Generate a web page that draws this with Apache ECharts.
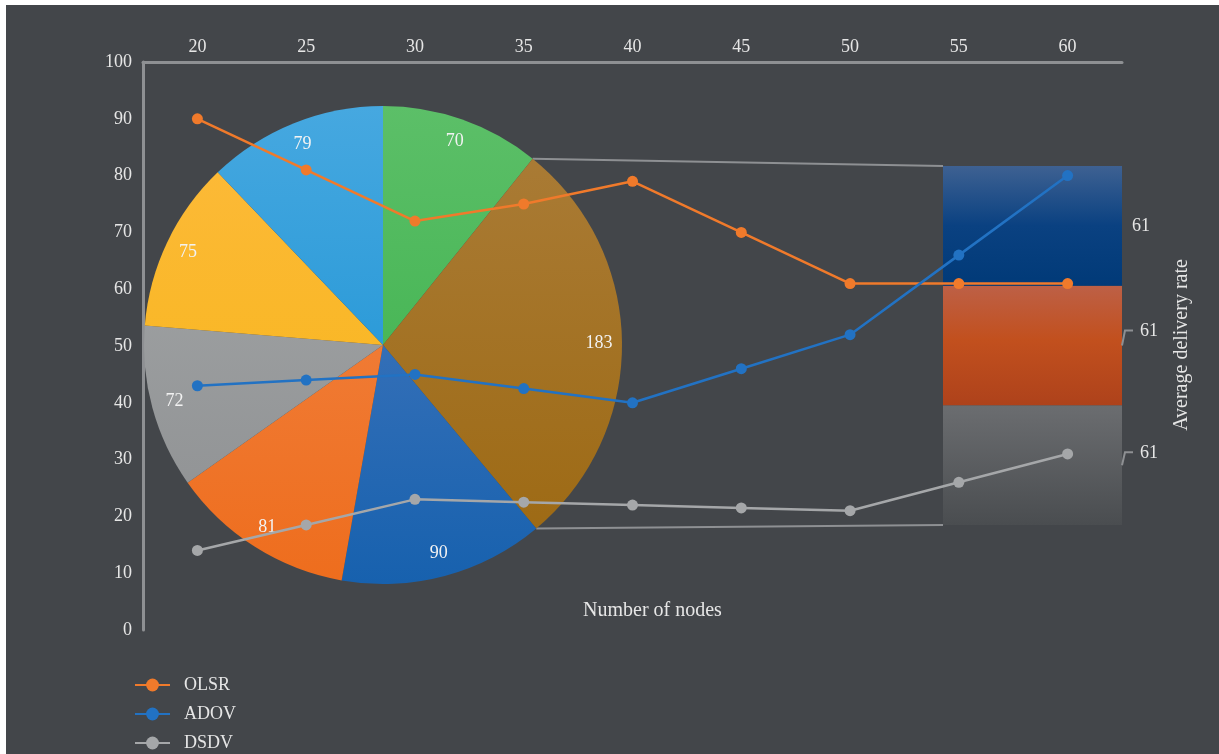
<!DOCTYPE html>
<html>
<head>
<meta charset="utf-8">
<script src="https://cdn.jsdelivr.net/npm/echarts@6/dist/echarts.min.js"></script>
<style>
html,body{margin:0;padding:0;background:#ffffff;}
#chart{width:1219px;height:754px;}
</style>
</head>
<body>
<div id="chart"></div>
<script>
// ---- data ----
var nodeCounts = ['20', '25', '30', '35', '40', '45', '50', '55', '60'];
var olsr = [90, 81, 72, 75, 79, 70, 61, 61, 61];
var adov = [43, 44, 45, 42.5, 40, 46, 52, 66, 80];
var dsdv = [14, 18.5, 23, 22.5, 22, 21.5, 21, 26, 31];
var pieValues = [70, 183, 90, 81, 72, 75, 79];
var barOfPieValues = [61, 61, 61]; // bottom (gray), middle (orange), top (blue)
var yTicks = [0, 100, 10]; // min, max, interval

var FONT = '"Liberation Serif", "DejaVu Serif", serif';
var TXT = '#e6e6e6';
var BG = '#43464a';
var AXIS = '#8e9093';

var pieCenter = [383, 345];
var pieR = 239;
var pieColors = [
  ['#5cbf68', '#36ae46'],
  ['#ab7d39', '#9c6810'],
  ['#4f7dc1', '#1761ae'],
  ['#f2884b', '#ee6d1d'],
  ['#a6a9aa', '#8d8f91'],
  ['#fdba3c', '#f6b513'],
  ['#46a8e0', '#138ed1']
];
var pieData = pieValues.map(function (v, i) {
  return {value: v, itemStyle: {color: new echarts.graphic.LinearGradient(0, pieCenter[1] - pieR, 0, pieCenter[1] + pieR,
    [{offset: 0, color: pieColors[i][0]}, {offset: 1, color: pieColors[i][1]}], true)}};
});
var pieLabelData = pieValues.map(function (v) {
  return {value: v, itemStyle: {color: 'rgba(0,0,0,0)'}};
});

var barColors = [
  [{offset: 0, color: '#6b6d70'}, {offset: 1, color: '#4a4d50'}],
  [{offset: 0, color: '#bd6046'}, {offset: 0.45, color: '#c2501e'}, {offset: 1, color: '#ae421b'}],
  [{offset: 0, color: '#3e6192'}, {offset: 0.5, color: '#0a4181'}, {offset: 1, color: '#013a78'}]
];
var barNames = ['part3', 'part2', 'part1'];
var barLabelOffsets = [[8, -12], [8, -14], [0, 0]];

var barSeries = barOfPieValues.map(function (v, i) {
  return {
    type: 'bar', name: barNames[i], xAxisIndex: 1, yAxisIndex: 1, stack: 'other',
    data: [v], barWidth: '100%', z: 1,
    itemStyle: {color: new echarts.graphic.LinearGradient(0, 0, 0, 1, barColors[i])},
    label: {show: true, position: 'right', distance: 10, offset: barLabelOffsets[i],
      color: TXT, fontFamily: FONT, fontSize: 18},
    emphasis: {disabled: true}, silent: true
  };
});

// leader lines for the two lower bar labels
var leaderSeries = {
  type: 'custom', xAxisIndex: 1, yAxisIndex: 1, z: 2, silent: true,
  data: [0, 1],
  renderItem: function (params, api) {
    var idx = api.value(0);
    var base = 0;
    for (var k = 0; k < idx; k++) base += barOfPieValues[k];
    var mid = base + barOfPieValues[idx] / 2;
    var p = api.coord([0, mid]);
    var w = api.size([1, 0])[0];
    var x = p[0] + w / 2;
    var up = idx === 0 ? 13 : 15;
    return {
      type: 'polyline',
      shape: {points: [[x, p[1]], [x + 3, p[1] - up], [x + 11, p[1] - up]]},
      style: {stroke: '#8e9093', lineWidth: 2, fill: null}
    };
  },
  encode: {x: -1, y: -1}
};

function lineSeries(name, data, color) {
  return {
    type: 'line', name: name, data: data, xAxisIndex: 0, yAxisIndex: 0, z: 5,
    symbol: 'circle', symbolSize: 11,
    lineStyle: {color: color, width: 2.5},
    itemStyle: {color: color},
    emphasis: {disabled: true}
  };
}

var chart = echarts.init(document.getElementById('chart'), null, {renderer: 'canvas'});
var option = {
  backgroundColor: BG,
  animation: false,
  textStyle: {fontFamily: FONT},
  title: {
    text: 'Number of nodes', left: 578, top: 596,
    textStyle: {color: TXT, fontFamily: FONT, fontSize: 20, fontWeight: 'normal'}
  },
  legend: {
    orient: 'vertical', left: 134, top: 676, padding: 0, itemGap: 11, itemWidth: 35, itemHeight: 16,
    data: ['OLSR', 'ADOV', 'DSDV'],
    textStyle: {color: TXT, fontFamily: FONT, fontSize: 18, lineHeight: 16, padding: [0, 0, 0, 9]}
  },
  grid: [
    {left: 143, top: 62, width: 979, height: 568, containLabel: false},
    {left: 943, top: 166, width: 179, height: 359, containLabel: false}
  ],
  xAxis: [
    {
      type: 'category', gridIndex: 0, position: 'top', data: nodeCounts, boundaryGap: true,
      axisLine: {onZero: false, lineStyle: {color: AXIS, width: 3}},
      axisTick: {show: false},
      axisLabel: {color: TXT, fontFamily: FONT, fontSize: 18, margin: 6},
      splitLine: {show: false}
    },
    {type: 'category', gridIndex: 1, data: ['other'], show: false}
  ],
  yAxis: [
    {
      type: 'value', gridIndex: 0, min: yTicks[0], max: yTicks[1], interval: yTicks[2],
      axisLine: {show: true, onZero: false, lineStyle: {color: AXIS, width: 3}},
      axisTick: {show: false},
      axisLabel: {color: TXT, fontFamily: FONT, fontSize: 18, margin: 11},
      splitLine: {show: false}
    },
    {type: 'value', gridIndex: 1, min: 0, max: barOfPieValues.reduce(function (a, b) { return a + b; }, 0), show: false}
  ],
  series: [
    {
      type: 'pie', center: pieCenter, radius: [0, pieR], startAngle: 90, clockwise: true,
      data: pieData, z: 1, silent: true, label: {show: false}, labelLine: {show: false},
      itemStyle: {borderWidth: 0}, emphasis: {disabled: true}
    },
    {
      type: 'pie', center: pieCenter, radius: [pieR - 52, pieR], startAngle: 90, clockwise: true,
      data: pieLabelData, z: 2, silent: true,
      label: {show: true, position: 'inside', formatter: '{c}', color: '#f2f2f2', fontFamily: FONT, fontSize: 18},
      labelLine: {show: false}, itemStyle: {borderWidth: 0}, emphasis: {disabled: true}
    }
  ].concat(barSeries).concat([leaderSeries,
    lineSeries('OLSR', olsr, '#f07a2b'),
    lineSeries('ADOV', adov, '#2272c3'),
    lineSeries('DSDV', dsdv, '#a5a7a9')
  ])
};
chart.setOption(option);

// connector lines from the "other" slice to the stacked bar, white frame edges, axis title
(function () {
  var total = pieValues.reduce(function (a, b) { return a + b; }, 0);
  var a0 = pieValues[0] / total * 2 * Math.PI;
  var a1 = (pieValues[0] + pieValues[1]) / total * 2 * Math.PI;
  function edge(a) { return [pieCenter[0] + pieR * Math.sin(a), pieCenter[1] - pieR * Math.cos(a)]; }
  var sum = barOfPieValues.reduce(function (a, b) { return a + b; }, 0);
  var rect = chart.getModel().getComponent('grid', 1).coordinateSystem.getRect();
  var topY = chart.convertToPixel({yAxisIndex: 1}, sum);
  var botY = chart.convertToPixel({yAxisIndex: 1}, 0);
  var e0 = edge(a0), e1 = edge(a1);
  chart.setOption({
    graphic: [
      {type: 'line', z: 0, shape: {x1: e0[0], y1: e0[1], x2: rect.x, y2: topY}, style: {stroke: AXIS, lineWidth: 2}},
      {type: 'line', z: 0, shape: {x1: e1[0], y1: e1[1], x2: rect.x, y2: botY}, style: {stroke: AXIS, lineWidth: 2}},
      {type: 'text', x: 1182, y: 345, rotation: Math.PI / 2, originX: 0, originY: 0,
        style: {text: 'Average delivery rate', fill: TXT, font: '20px ' + FONT, align: 'center', verticalAlign: 'middle'}},
      {type: 'rect', shape: {x: 0, y: 0, width: 1219, height: 5}, style: {fill: '#ffffff'}, z: 100},
      {type: 'rect', shape: {x: 0, y: 0, width: 6, height: 754}, style: {fill: '#ffffff'}, z: 100}
    ]
  });
})();
</script>
</body>
</html>
